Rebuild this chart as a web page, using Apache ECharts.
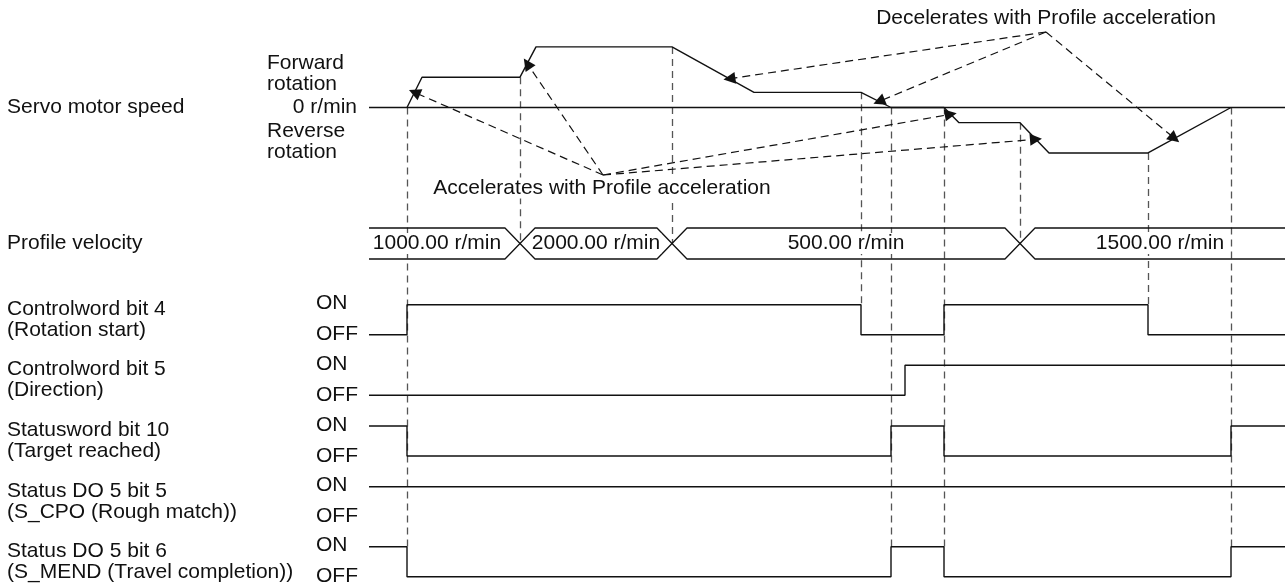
<!DOCTYPE html>
<html>
<head>
<meta charset="utf-8">
<script src="https://cdn.jsdelivr.net/npm/echarts@6/dist/echarts.min.js"></script>
<style>
html, body { margin: 0; padding: 0; background: #fff; }
#chart { width: 1285px; height: 588px; }
</style>
</head>
<body>
<div id="chart"></div>
<script>
// time runs from the left end of the traces (0) to the right edge (916)
const T_END = 916;

// servo motor speed, [time, r/min]
const speedTrace = [[38, 0], [53, 1000], [151, 1000], [167, 2000], [303, 2000], [385, 500], [492, 500],
  [522, 0], [575, 0], [590, -500], [651, -500], [680, -1500], [779, -1500], [862, 0]];

// profile velocity bus
const profileSwitch = [151, 303, 651];
const profileLabels = ['1000.00 r/min', '2000.00 r/min', '500.00 r/min', '1500.00 r/min'];

// digital signals, [time, level] where level 1 = ON
const cw4Steps = [[0, 0], [38, 1], [492, 0], [575, 1], [779, 0]];
const cw5Steps = [[0, 0], [536, 1]];
const sw10Steps = [[0, 1], [38, 0], [522, 1], [575, 0], [862, 1]];
const do5b5Steps = [[0, 1]];
const do5b6Steps = [[0, 1], [38, 0], [522, 1], [575, 0], [862, 1]];

const signalSteps = [cw4Steps, cw5Steps, sw10Steps, do5b5Steps, do5b6Steps];
const signalLabels = [
  'Controlword bit 4\n(Rotation start)',
  'Controlword bit 5\n(Direction)',
  'Statusword bit 10\n(Target reached)',
  'Status DO 5 bit 5\n(S_CPO (Rough match))',
  'Status DO 5 bit 6\n(S_MEND (Travel completion))'
];

// timing guides: time and the lane they drop to
const guideTimes = [38, 151, 303, 492, 522, 575, 651, 779, 862];
const guideEnds = ['do6', 'bus', 'bus', 'cw4', 'do6', 'do6', 'bus', 'cw4', 'do6'];

// annotations: anchor [time, r/min], ramps = index of speedTrace point that starts the ramp
const accelText = 'Accelerates with Profile acceleration';
const accelAnchor = [234, -2228];
const accelRamps = [0, 2, 8, 10];
const accelAlong = [0.5, 0.45, 0.45, 0.55];
const decelText = 'Decelerates with Profile acceleration';
const decelAnchor = [677, 2492];
const decelRamps = [4, 6, 12];
const decelAlong = [0.7, 0.6, 0.32];

// ---- layout (y is in page pixels on a hidden axis) ----
const LEFT = 369;
const SPEED_ZERO = 107.5, SPEED_PX = 30.3 / 1000;
const BUS_MID = 243.5, BUS_HALF = 15.5, BUS_CROSS = 15;
const LANE_ON = [304.7, 365.2, 426, 486.7, 546.7], LANE_GAP = 30;
const FONT = '"Liberation Sans", Arial, Helvetica, sans-serif';
const FS = 21;
const INK = '#111';

const speedY = v => SPEED_ZERO - v * SPEED_PX;
const laneY = (i, lvl) => LANE_ON[i] + (lvl ? 0 : LANE_GAP);
const endY = { bus: BUS_MID, cw4: LANE_ON[0], do6: LANE_ON[4] };

function busLine(startTop) {
  let top = startTop;
  const pts = [[0, top ? BUS_MID - BUS_HALF : BUS_MID + BUS_HALF]];
  profileSwitch.forEach(s => {
    pts.push([s - BUS_CROSS, top ? BUS_MID - BUS_HALF : BUS_MID + BUS_HALF]);
    top = !top;
    pts.push([s + BUS_CROSS, top ? BUS_MID - BUS_HALF : BUS_MID + BUS_HALF]);
  });
  pts.push([T_END, top ? BUS_MID - BUS_HALF : BUS_MID + BUS_HALF]);
  return pts;
}

function rampPoint(i, f) {
  const a = speedTrace[i], b = speedTrace[i + 1];
  return [a[0] + (b[0] - a[0]) * f, speedY(a[1] + (b[1] - a[1]) * f)];
}

function noteArrows(anchor, ramps, along) {
  const from = [anchor[0], speedY(anchor[1])];
  return ramps.map((r, k) => ({ coords: [from, rampPoint(r, along[k])] }));
}

const busBounds = [0].concat(profileSwitch.map(s => s + BUS_CROSS));
const busEnds = profileSwitch.map(s => s - BUS_CROSS).concat([T_END]);

const textLabel = {
  show: true, position: 'inside', formatter: '{b}', color: INK, fontSize: FS, fontFamily: FONT,
  textBorderWidth: 0, backgroundColor: '#fff', padding: [0, 1]
};

const series = [
  {
    type: 'line', z: 3, data: [[0, SPEED_ZERO], [T_END, SPEED_ZERO]],
    symbol: 'none', lineStyle: { color: INK, width: 1.4 }
  },
  {
    type: 'line', z: 3, data: speedTrace.map(p => [p[0], speedY(p[1])]),
    symbol: 'none', lineStyle: { color: INK, width: 1.4 }
  },
  {
    type: 'line', z: 3, data: busLine(true), symbol: 'none', lineStyle: { color: INK, width: 1.3 }
  },
  {
    type: 'line', z: 3, data: busLine(false), symbol: 'none', lineStyle: { color: INK, width: 1.3 }
  },
  {
    type: 'lines', z: 1, coordinateSystem: 'cartesian2d', polyline: false,
    data: guideTimes.map((t, i) => {
      const pt = speedTrace.find(p => p[0] === t);
      return { coords: [[t, speedY(pt[1])], [t, endY[guideEnds[i]]]] };
    }),
    lineStyle: { color: '#555', width: 1.3, type: [7, 5], opacity: 1 }
  },
  {
    type: 'lines', z: 2, coordinateSystem: 'cartesian2d', polyline: false,
    data: noteArrows(accelAnchor, accelRamps, accelAlong).concat(noteArrows(decelAnchor, decelRamps, decelAlong)),
    symbol: ['none', 'triangle'], symbolSize: 12,
    lineStyle: { color: INK, width: 1.2, type: [8, 5], opacity: 1 }
  },
  {
    type: 'scatter', z: 6, symbolSize: 1, itemStyle: { color: 'transparent', opacity: 1 },
    data: profileLabels.map((txt, i) => ({ name: txt, value: [(busBounds[i] + busEnds[i]) / 2, BUS_MID] })),
    label: textLabel
  },
  {
    type: 'scatter', z: 6, symbolSize: 1, itemStyle: { color: 'transparent', opacity: 1 },
    data: [
      { name: accelText, value: [accelAnchor[0], speedY(accelAnchor[1])], label: { offset: [-1, 13] } },
      { name: decelText, value: [decelAnchor[0], speedY(decelAnchor[1])], label: { offset: [0, -14] } }
    ],
    label: textLabel
  }
];

signalSteps.forEach((steps, i) => {
  const last = steps[steps.length - 1];
  series.push({
    type: 'line', z: 3, step: 'end', symbol: 'none',
    data: steps.concat([[T_END, last[1]]]).map(p => [p[0], laneY(i, p[1])]),
    lineStyle: { color: INK, width: 1.4 }
  });
});

function txt(text, x, y, align) {
  return {
    type: 'text', silent: true,
    style: {
      text: text, x: x, y: y, fill: INK, fontSize: FS, fontFamily: FONT, lineHeight: 21,
      align: align || 'left', verticalAlign: 'middle', textAlign: align || 'left', textVerticalAlign: 'middle'
    }
  };
}

const graphic = [
  txt('Servo motor speed', 7, SPEED_ZERO),
  txt('Forward\nrotation', 267, SPEED_ZERO - 33.5),
  txt('0 r/min', 357, SPEED_ZERO, 'right'),
  txt('Reverse\nrotation', 267, SPEED_ZERO + 34),
  txt('Profile velocity', 7, BUS_MID)
];
signalLabels.forEach((lab, i) => {
  graphic.push(txt(lab, 7, LANE_ON[i] + 15));
  graphic.push(txt('ON', 316, LANE_ON[i] - 1));
  graphic.push(txt('OFF', 316, LANE_ON[i] + LANE_GAP));
});

const chart = echarts.init(document.getElementById('chart'), null, { renderer: 'canvas' });
chart.setOption({
  animation: false,
  backgroundColor: '#fff',
  grid: { left: LEFT, right: 0, top: 0, bottom: 0 },
  xAxis: { type: 'value', min: 0, max: T_END, show: false },
  yAxis: { type: 'value', min: 0, max: 588, inverse: true, show: false },
  graphic: graphic,
  series: series.map(s => Object.assign({ silent: true, clip: false }, s))
});
</script>
</body>
</html>
